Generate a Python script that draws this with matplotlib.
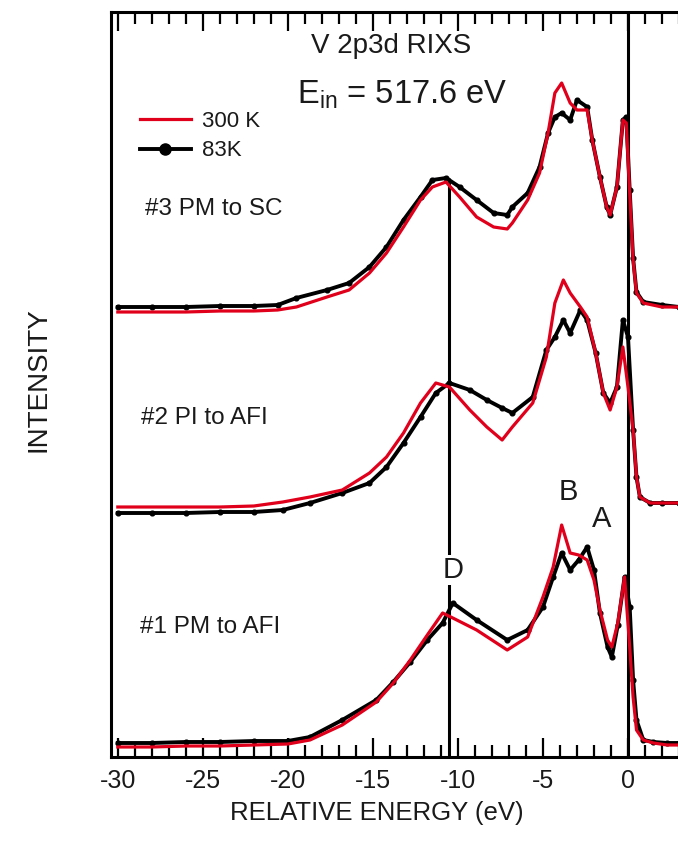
import matplotlib
matplotlib.use("Agg")
import matplotlib.pyplot as plt
from matplotlib.lines import Line2D
from matplotlib.ticker import MultipleLocator

plt.rcParams['font.family'] = ['Liberation Sans', 'DejaVu Sans']
plt.rcParams['mathtext.fontset'] = 'custom'
plt.rcParams['mathtext.rm'] = 'Liberation Sans'
plt.rcParams['axes.unicode_minus'] = False

# ---- data (intensity in arbitrary units, spectra already offset) ----
energy_1 = [-30, -28, -26, -24, -22, -20, -18.7, -16.8, -14.8, -13.8, -12.8, -11.8, -10.9, -10.3,
            -8.9, -7.1, -5.9, -5.0, -4.4, -3.9, -3.4, -2.9, -2.4, -2.0, -1.65, -1.2, -0.95, -0.6,
            -0.2, 0.1, 0.3, 0.5, 0.9, 1.5, 2.3, 3.0]
pm_afi_83K = [14, 14, 15, 15, 16, 16, 20, 37, 57, 75, 95, 117, 134, 154,
              137, 117, 127, 150, 180, 204, 187, 197, 210, 187, 144, 110, 100, 132,
              180, 150, 77, 37, 17, 15, 14, 14]
pm_afi_300K = [10, 10, 11, 11, 12, 13, 17, 32, 55, 74, 97, 122, 144, 139,
               127, 107, 120, 160, 190, 232, 204, 202, 197, 177, 147, 117, 110, 134,
               180, 110, 60, 27, 17, 14, 12, 12]

energy_2 = [-30, -28, -26, -24, -22, -20.3, -18.7, -16.8, -15.2, -14.2, -13.2, -12.2, -11.3,
            -10.5, -9.3, -8.3, -7.4, -6.8, -5.6, -4.8, -4.3, -3.8, -3.4, -2.8, -2.4, -1.9,
            -1.45, -1.05, -0.65, -0.3, 0.0, 0.3, 0.5, 0.7, 1.3, 2.0, 3.0]
pi_afi_83K = [244, 244, 244, 245, 245, 247, 254, 264, 274, 290, 314, 340, 364,
              374, 367, 357, 349, 344, 360, 407, 420, 437, 424, 447, 437, 404,
              364, 354, 370, 437, 420, 327, 280, 260, 254, 254, 254]
pi_afi_300K = [250, 250, 250, 250, 251, 255, 260, 267, 284, 300, 324, 354, 374,
               370, 347, 330, 317, 330, 354, 400, 454, 477, 464, 450, 440, 404,
               364, 347, 370, 410, 370, 327, 280, 260, 254, 254, 254]

energy_3 = [-30, -28, -26, -24, -22, -20.6, -19.5, -17.7, -16.4, -15.2, -14.2, -13.2, -12.2,
            -11.5, -10.7, -9.9, -8.9, -7.9, -7.1, -6.8, -5.9, -5.2, -4.7, -4.3, -3.9, -3.4,
            -3.0, -2.4, -2.1, -1.65, -1.25, -1.05, -0.65, -0.3, -0.1, 0.1, 0.3, 0.5, 0.9,
            2.0, 3.0]
pm_sc_83K = [450, 450, 450, 451, 451, 452, 459, 467, 474, 490, 510, 537, 560,
             577, 579, 570, 557, 544, 542, 550, 564, 590, 624, 640, 644, 637,
             657, 650, 617, 580, 550, 542, 570, 637, 640, 567, 499, 465, 455,
             452, 450]
pm_sc_300K = [445, 445, 445, 446, 446, 447, 450, 460, 467, 484, 504, 530, 557,
              570, 575, 560, 540, 530, 528, 534, 557, 584, 624, 664, 674, 654,
              647, 647, 617, 580, 550, 542, 570, 637, 634, 564, 497, 464, 454,
              450, 450]

series_labels = ["#1 PM to AFI", "#2 PI to AFI", "#3 PM to SC"]
legend_labels = ["300 K", "83K"]
feature_labels = ["D", "B", "A"]
feature_energy = [-10.5, 0.0]

RED = '#E0001B'
TXT = '#1a1a1a'

fig = plt.figure(figsize=(6.78, 8.56), dpi=100)
ax = fig.add_axes([111/678, 99/856, 568/678, 745/856])

for e, b, r in [(energy_1, pm_afi_83K, pm_afi_300K),
                (energy_2, pi_afi_83K, pi_afi_300K),
                (energy_3, pm_sc_83K, pm_sc_300K)]:
    ax.plot(e, b, color='black', lw=2.8, marker='o', ms=3.4, zorder=3)
    ax.plot(e, r, color=RED, lw=2.3, zorder=4)

# vertical reference lines
ax.vlines(feature_energy[1], 0, 745, color='black', lw=2.2, zorder=2)
ax.vlines(feature_energy[0], 0, 579, color='black', lw=2.2, zorder=2)

ax.set_xlim(-30.4, 3.0)
ax.set_ylim(0, 745)
ax.xaxis.set_major_locator(MultipleLocator(5))
ax.xaxis.set_minor_locator(MultipleLocator(1))
ax.set_yticks([])
ax.tick_params(axis='x', which='both', direction='in', top=True, bottom=True,
               labelsize=18, pad=9, labelcolor=TXT)
ax.tick_params(axis='x', which='major', length=14, width=1.6)
ax.tick_params(axis='x', which='minor', length=8.5, width=1.6)
for s in ['left', 'top', 'bottom']:
    ax.spines[s].set_linewidth(2.2)
ax.spines['right'].set_visible(False)

ax.set_xlabel("RELATIVE ENERGY (eV)", fontsize=18.5, color=TXT)
ax.xaxis.set_label_coords(0.468, -0.075)
ax.xaxis.label.set_va('center')
ax.set_ylabel("INTENSITY", fontsize=20, color=TXT)
ax.yaxis.set_label_coords(-0.1285, 0.506)
ax.yaxis.label.set_va('center')

ax.text(-13.94, 711, "V 2p3d RIXS", ha='center', va='center', fontsize=20, color=TXT)
ax.text(-13.3, 662, r"E$_{\mathregular{in}}$ = 517.6 eV", ha='center', va='center',
        fontsize=23.5, color=TXT)

ax.text(-24.35, 548, series_labels[2], ha='center', va='center', fontsize=17.5, color=TXT)
ax.text(-24.9, 339, series_labels[1], ha='center', va='center', fontsize=17.5, color=TXT)
ax.text(-24.6, 130, series_labels[0], ha='center', va='center', fontsize=17.5, color=TXT)

ax.text(-10.3, 187, feature_labels[0], ha='center', va='center', fontsize=21, color=TXT,
        zorder=5, bbox=dict(facecolor='white', edgecolor='none', pad=1))
ax.text(-3.53, 265, feature_labels[1], ha='center', va='center', fontsize=21, color=TXT)
ax.text(-1.53, 238, feature_labels[2], ha='center', va='center', fontsize=21, color=TXT)

handles = [Line2D([], [], color=RED, lw=2.3),
           Line2D([], [], color='black', lw=2.8, marker='o', ms=8)]
ax.legend(handles, legend_labels, loc='upper left', bbox_to_anchor=(0.035, 0.879),
          frameon=False, fontsize=16, handlelength=2.3, handletextpad=0.5,
          labelspacing=0.38, labelcolor=TXT, borderaxespad=0)

fig.savefig("out.png", dpi=100)
